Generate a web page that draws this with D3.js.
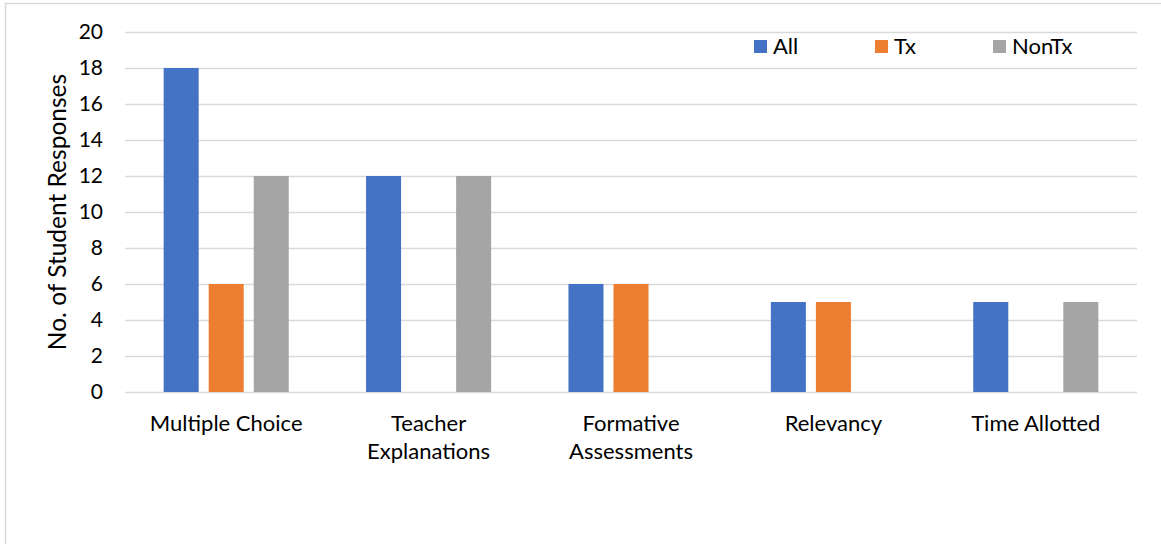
<!DOCTYPE html>
<html><head><meta charset="utf-8">
<script src="https://cdn.jsdelivr.net/npm/d3@7"></script>
<style>
body{margin:0;background:#fff;}
text{font-family:Lato, "Open Sans", sans-serif;fill:#000;}
</style></head>
<body><svg id="c" width="1161" height="544"></svg>
<script>
const categories = [["Multiple Choice"],["Teacher","Explanations"],["Formative","Assessments"],["Relevancy"],["Time Allotted"]];
const series = ["All","Tx","NonTx"];
const allValues = [18,12,6,5,5];
const txValues = [6,0,6,5,0];
const nonTxValues = [12,12,0,0,5];
const yTicks = [0,2,4,6,8,10,12,14,16,18,20];
const colors = ["#4472C4","#ED7D31","#A5A5A5"];

const svg = d3.select("#c");
svg.append("rect").attr("x",5.5).attr("y",3.5).attr("width",1170).attr("height",560)
  .attr("fill","#fff").attr("stroke","#D9D9D9").attr("stroke-width",1.5);

const pL=125,pR=1137,pT=32,pB=392;
const catKeys = categories.map(c=>c.join(" "));
const x0 = d3.scaleBand().domain(catKeys).range([pL,pR]).paddingInner(0.382).paddingOuter(0.191);
const x1 = d3.scaleBand().domain(series).range([0,x0.bandwidth()]).paddingInner(10/45);
const y = d3.scaleLinear().domain([0,20]).range([pB,pT]);

svg.append("g").selectAll("line").data(yTicks).join("line")
  .attr("x1",pL).attr("x2",pR).attr("y1",d=>Math.round(y(d))+0.5).attr("y2",d=>Math.round(y(d))+0.5)
  .attr("stroke","#D9D9D9").attr("stroke-width",1.5);

const yAxis = d3.axisLeft(y).tickValues(yTicks).tickSize(0).tickPadding(22);
const ya = svg.append("g").attr("transform",`translate(${pL},0)`).call(yAxis);
ya.select(".domain").remove();
ya.selectAll("text").style("font-size","21px").style("font-family","Lato, sans-serif").attr("fill","#000");

const valsBySeries = [allValues, txValues, nonTxValues];
const rows = [];
catKeys.forEach((c,i)=>series.forEach((s,j)=>rows.push({c,s,v:valsBySeries[j][i],col:colors[j]})));
svg.append("g").selectAll("rect").data(rows.filter(d=>d.v>0)).join("rect")
  .attr("x",d=>x0(d.c)+x1(d.s)).attr("width",x1.bandwidth())
  .attr("y",d=>y(d.v)).attr("height",d=>y(0)-y(d.v)).attr("fill",d=>d.col);

const xl = svg.append("g");
categories.forEach((lines,i)=>{
  const cx = x0(catKeys[i]) + x0.bandwidth()/2;
  const t = xl.append("text").attr("x",cx).attr("y",431).attr("text-anchor","middle").style("font-size","22px");
  lines.forEach((ln,k)=>t.append("tspan").attr("x",cx).attr("dy",k===0?0:28).text(ln));
});

svg.append("text").attr("transform",`translate(66,${(pT+pB)/2}) rotate(-90)`)
  .attr("text-anchor","middle").style("font-size","24.5px").text("No. of Student Responses");

const legX = [754,875,993];
const lg = svg.append("g");
series.forEach((s,j)=>{
  lg.append("rect").attr("x",legX[j]).attr("y",40).attr("width",13).attr("height",13).attr("fill",colors[j]);
  lg.append("text").attr("x",legX[j]+19).attr("y",54).style("font-size","22px").text(s);
});
</script></body></html>
